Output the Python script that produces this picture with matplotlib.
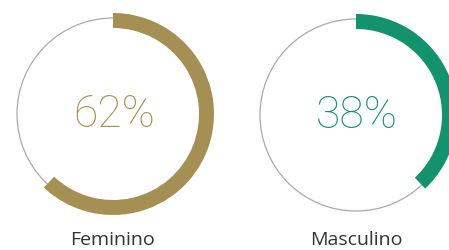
import matplotlib
matplotlib.use("Agg")
from matplotlib import pyplot as plt
from matplotlib.patches import Circle

# data
labels = ["Feminino", "Masculino"]
values = [62, 38]
colors = ["#a68f53", "#12936e"]

# layout in pixel units (y up)
centers = [(113, 136), (356, 135)]
outer_r = 101
band = 15
ring_r = 96

fig = plt.figure(figsize=(4.49, 2.5), dpi=100)
ax = fig.add_axes([0, 0, 1, 1])

for (cx, cy), label, value, color in zip(centers, labels, values, colors):
    # thin grey full ring
    ax.add_patch(Circle((cx, cy), ring_r, fill=False, edgecolor="#aaaaaa",
                        linewidth=0.9))
    # coloured arc, clockwise from the top
    ax.pie([value, 100 - value], colors=[color, "none"], startangle=90,
           counterclock=False, radius=outer_r, center=(cx, cy),
           wedgeprops=dict(width=band, linewidth=0))
    ax.text(cx + 1, cy - 1, "%d%%" % value, color=color, fontsize=32,
            family="Roboto", weight="light", ha="center", va="center")
    ax.text(cx, 10, label, color="#333333", fontsize=14,
            family="Open Sans", ha="center", va="center")

ax.set_xlim(0, 449)
ax.set_ylim(0, 250)
ax.set_aspect("auto")
ax.axis("off")

fig.savefig("out.png", dpi=100)
